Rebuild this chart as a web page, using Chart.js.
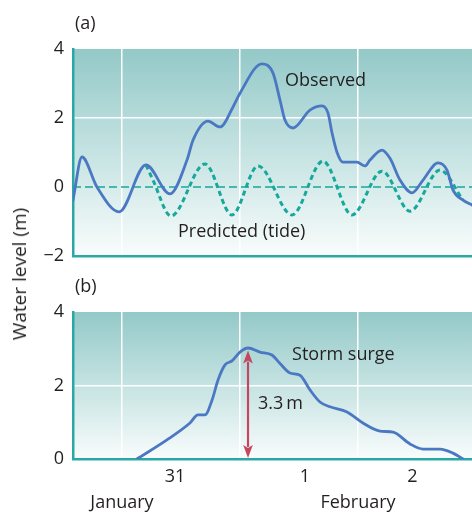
<!DOCTYPE html>
<html>
<head>
<meta charset="utf-8">
<script src="https://cdn.jsdelivr.net/npm/chart.js@4.4.1/dist/chart.umd.min.js"></script>
<style>
  html, body { margin: 0; padding: 0; background: #ffffff; }
  body { width: 472px; height: 514px; position: relative; overflow: hidden; font-family: "Open Sans", sans-serif; color: #231f20; }
  .wrap { position: absolute; left: 0; }
  canvas { display: block; }
  .lbl { position: absolute; font-size: 18px; line-height: 18px; color: #231f20; }
  #ytitle { position: absolute; left: 19px; top: 274px; transform: translate(-50%, -50%) rotate(-90deg); white-space: nowrap; font-size: 19px; color: #231f20; }
</style>
</head>
<body>
<div class="wrap" style="top:0;"><canvas id="cA" width="472" height="276"></canvas></div>
<div class="wrap" style="top:270px;"><canvas id="cB" width="472" height="244"></canvas></div>
<div class="lbl" style="left:75px; top:13px;">(a)</div>
<div class="lbl" style="left:75px; top:276px;">(b)</div>
<div id="ytitle">Water level (m)</div>
<script>
// ---------- data (x in days from 31 January 00:00, y in metres) ----------
const xRange = [-0.415, 2.966];
const gridDays = [0, 1, 2];
const dayTickPos = [0.45, 1.55, 2.46];
const dayTickLabels = ['31', '1', '2'];
const monthTickPos = [0, 2];
const monthTickLabels = ['January', 'February'];
const yTicksA = [-2, 0, 2, 4];
const yTicksB = [0, 2, 4];

const observedX = [-0.415, -0.339, -0.212, -0.025, 0.203, 0.407, 0.551, 0.602, 0.729, 0.831, 0.941, 1.0, 1.186, 1.280, 1.339, 1.381, 1.449, 1.593, 1.695, 1.746, 1.780, 1.822, 1.873, 1.992, 2.059, 2.102, 2.203, 2.271, 2.356, 2.458, 2.551, 2.678, 2.754, 2.805, 2.890, 2.966];
const observedY = [-0.38, 0.87, 0.0, -0.72, 0.64, -0.2, 0.78, 1.36, 1.91, 1.74, 2.32, 2.72, 3.57, 3.3, 2.52, 1.94, 1.71, 2.23, 2.35, 2.14, 1.57, 1.01, 0.72, 0.72, 0.61, 0.78, 1.07, 0.83, 0.2, -0.17, 0.2, 0.70, 0.49, -0.09, -0.38, -0.52];

const predictedX = [0.203, 0.263, 0.415, 0.703, 0.932, 1.153, 1.441, 1.703, 1.949, 2.203, 2.441, 2.695, 2.890];
const predictedY = [0.64, 0.2, -0.84, 0.67, -0.81, 0.61, -0.81, 0.75, -0.81, 0.46, -0.70, 0.49, -0.38];

const surgeX = [0.127, 0.381, 0.576, 0.644, 0.703, 0.763, 0.814, 0.873, 0.932, 1.0, 1.068, 1.169, 1.271, 1.339, 1.424, 1.508, 1.593, 1.678, 1.763, 1.907, 2.042, 2.186, 2.297, 2.441, 2.551, 2.695, 2.805, 2.890];
const surgeY = [0.0, 0.52, 0.98, 1.2, 1.2, 1.6, 2.15, 2.56, 2.67, 2.91, 3.02, 2.91, 2.83, 2.6, 2.34, 2.28, 1.88, 1.55, 1.42, 1.28, 0.98, 0.76, 0.73, 0.41, 0.27, 0.27, 0.16, 0.0];

const surgeArrow = { x: 1.068, from: 0.0, to: 2.95 };

// annotation texts with their data-space anchors (left edge, vertical middle)
const labelsA = [
  { text: 'Observed', x: 1.381, y: 3.07 },
  { text: 'Predicted (tide)', x: 0.475, y: -1.30 }
];
const labelsB = [
  { text: 'Storm surge', x: 1.441, y: 2.83 },
  { text: '3.3\u2009m', x: 1.153, y: 1.50 }
];

// ---------- styles ----------
const TEAL = '#2aa9a4';
const BLUE = '#4b78c3';
const DOTTEAL = '#17a89c';
const RED = '#c6465f';
const TEXT = '#231f20';
const FONT = '"Open Sans", sans-serif';

const pts = (xs, ys) => xs.map((x, i) => ({ x: x, y: ys[i] }));
const fmtY = v => (v < 0 ? '\u2212' + Math.abs(v) : String(v));

const bgPlugin = {
  id: 'bgGrad',
  beforeDraw(chart) {
    const a = chart.chartArea, ctx = chart.ctx;
    const g = ctx.createLinearGradient(0, a.top, 0, a.bottom);
    g.addColorStop(0, '#93c9c8');
    g.addColorStop(0.5, '#c5e3e2');
    g.addColorStop(1, '#f9fcfc');
    ctx.save();
    ctx.fillStyle = g;
    ctx.fillRect(a.left, a.top, a.right - a.left, a.bottom - a.top);
    ctx.restore();
  }
};

const textPlugin = {
  id: 'texts',
  afterDatasetsDraw(chart, args, opts) {
    const ctx = chart.ctx, xs = chart.scales.x, ys = chart.scales.y;
    ctx.save();
    ctx.fillStyle = TEXT;
    ctx.font = '18px ' + FONT;
    ctx.textAlign = 'left';
    ctx.textBaseline = 'middle';
    (opts.items || []).forEach(l => {
      ctx.fillText(l.text, xs.getPixelForValue(l.x), ys.getPixelForValue(l.y));
    });
    ctx.restore();
  }
};

const zeroLinePlugin = {
  id: 'zeroLine',
  beforeDatasetsDraw(chart, args, opts) {
    if (!opts.show) return;
    const ctx = chart.ctx, a = chart.chartArea, y = chart.scales.y.getPixelForValue(0);
    ctx.save();
    ctx.strokeStyle = DOTTEAL;
    ctx.lineWidth = 1.5;
    ctx.setLineDash([8, 4]);
    ctx.beginPath();
    ctx.moveTo(a.left, y);
    ctx.lineTo(a.right, y);
    ctx.stroke();
    ctx.restore();
  }
};

const arrowPlugin = {
  id: 'arrow',
  afterDatasetsDraw(chart, args, opts) {
    if (!opts.arrow) return;
    const ctx = chart.ctx, xs = chart.scales.x, ys = chart.scales.y;
    const x = xs.getPixelForValue(opts.arrow.x);
    const y0 = ys.getPixelForValue(opts.arrow.from) - 1;
    const y1 = ys.getPixelForValue(opts.arrow.to);
    const hl = 13, hw = 4.8;
    ctx.save();
    ctx.strokeStyle = RED;
    ctx.fillStyle = RED;
    ctx.lineWidth = 2.2;
    ctx.beginPath();
    ctx.moveTo(x, y1 + hl - 2);
    ctx.lineTo(x, y0 - hl + 2);
    ctx.stroke();
    ctx.beginPath();
    ctx.moveTo(x, y1); ctx.lineTo(x - hw, y1 + hl); ctx.lineTo(x, y1 + hl - 3); ctx.lineTo(x + hw, y1 + hl); ctx.closePath();
    ctx.fill();
    ctx.beginPath();
    ctx.moveTo(x, y0); ctx.lineTo(x - hw, y0 - hl); ctx.lineTo(x, y0 - hl + 3); ctx.lineTo(x + hw, y0 - hl); ctx.closePath();
    ctx.fill();
    ctx.restore();
  }
};

function yScale(min, max, ticks) {
  return {
    type: 'linear', min: min, max: max,
    afterBuildTicks: s => { s.ticks = ticks.map(v => ({ value: v })); },
    afterFit: s => { s.width = 73; },
    grid: { color: c => (c.tick && c.tick.value === 2 ? '#ffffff' : 'rgba(0,0,0,0)'), lineWidth: 1.5, drawTicks: false },
    border: { display: true, color: TEAL, width: 2.5 },
    ticks: { color: TEXT, font: { family: FONT, size: 18 }, padding: 9, callback: v => fmtY(v) }
  };
}

const lineStyle = { pointRadius: 0, fill: false, cubicInterpolationMode: 'monotone', borderCapStyle: 'round', borderJoinStyle: 'round' };

new Chart(document.getElementById('cA'), {
  type: 'line',
  data: {
    datasets: [
      Object.assign({ label: 'Observed', data: pts(observedX, observedY), borderColor: BLUE, borderWidth: 2.8 }, lineStyle),
      Object.assign({ label: 'Predicted (tide)', data: pts(predictedX, predictedY), borderColor: DOTTEAL, borderWidth: 3, borderDash: [5, 3.5] }, lineStyle, { borderCapStyle: 'butt' })
    ]
  },
  options: {
    responsive: false, animation: false, devicePixelRatio: 1,
    layout: { padding: { top: 49, bottom: 20, left: 0, right: 0 } },
    plugins: { legend: { display: false }, tooltip: { enabled: false }, texts: { items: labelsA }, zeroLine: { show: true } },
    scales: {
      x: {
        type: 'linear', min: xRange[0], max: xRange[1],
        afterBuildTicks: s => { s.ticks = gridDays.map(v => ({ value: v })); },
        afterFit: s => { s.height = 0; },
        grid: { color: '#ffffff', lineWidth: 1.5, drawTicks: false },
        border: { display: true, color: TEAL, width: 2.5 },
        ticks: { display: false }
      },
      y: yScale(-2, 4, yTicksA)
    }
  },
  plugins: [bgPlugin, zeroLinePlugin, textPlugin]
});

const bottomTicks = dayTickPos.concat(gridDays).filter((v, i, arr) => arr.indexOf(v) === i).sort((a, b) => a - b);

new Chart(document.getElementById('cB'), {
  type: 'line',
  data: {
    datasets: [
      Object.assign({ label: 'Storm surge', data: pts(surgeX, surgeY), borderColor: BLUE, borderWidth: 2.8 }, lineStyle)
    ]
  },
  options: {
    responsive: false, animation: false, devicePixelRatio: 1,
    layout: { padding: { top: 42, bottom: 0, left: 0, right: 0 } },
    plugins: { legend: { display: false }, tooltip: { enabled: false }, texts: { items: labelsB }, arrow: { arrow: surgeArrow } },
    scales: {
      x: {
        type: 'linear', min: xRange[0], max: xRange[1],
        afterBuildTicks: s => { s.ticks = bottomTicks.map(v => ({ value: v })); },
        afterFit: s => { s.height = 55; },
        grid: { color: c => (c.tick && gridDays.indexOf(c.tick.value) >= 0 ? '#ffffff' : 'rgba(0,0,0,0)'), lineWidth: 1.5, drawTicks: false },
        border: { display: true, color: TEAL, width: 2.5 },
        ticks: {
          autoSkip: false, maxRotation: 0, color: TEXT, padding: 5,
          font: { family: FONT, size: 18, lineHeight: 26 / 18 },
          callback: v => {
            const d = dayTickPos.indexOf(v);
            if (d >= 0) return dayTickLabels[d];
            const m = monthTickPos.indexOf(v);
            if (m >= 0) return ['', monthTickLabels[m]];
            return '';
          }
        }
      },
      y: yScale(0, 4, yTicksB)
    }
  },
  plugins: [bgPlugin, textPlugin, arrowPlugin]
});
</script>
</body>
</html>
